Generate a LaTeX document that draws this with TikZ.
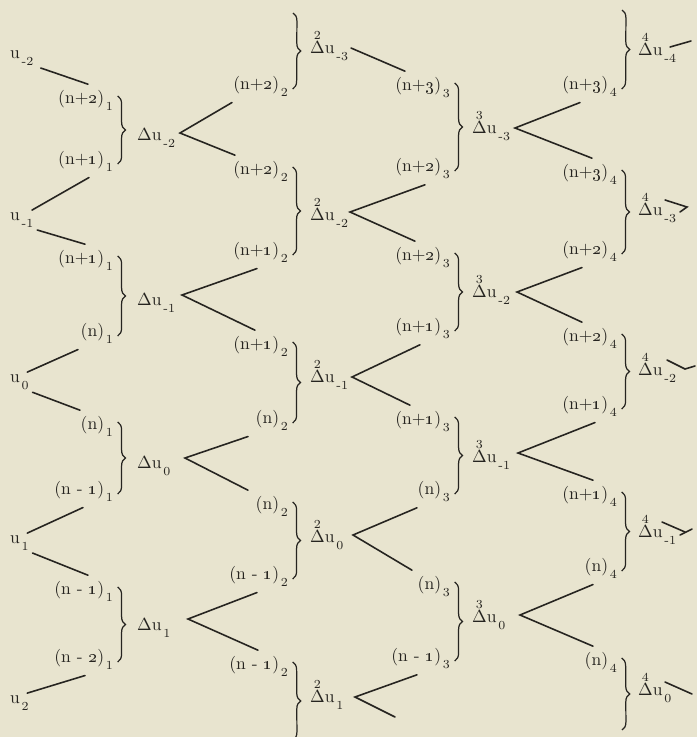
\documentclass[tikz,border=0pt]{standalone}
\usepackage{amsmath,amssymb}
\usepackage{tikz}
\usetikzlibrary{positioning,calc,decorations.pathreplacing}

\definecolor{paper}{RGB}{232,228,207}
\definecolor{ink}{RGB}{38,36,32}
\newcommand{\subl}[1]{\kern1pt\raisebox{-4.5pt}{\scriptsize #1}}
\newcommand{\dif}[1]{\ensuremath{\mathop{\kern0pt\Delta}\limits^{\raisebox{-1.5pt}{$\scriptstyle #1$}}}}

\begin{document}
\begin{tikzpicture}[
    x=0.02cm, y=-0.02cm, color=ink,
    lbl/.style={inner xsep=1pt, inner ysep=3pt, anchor=base east},
    val/.style={inner sep=1pt, anchor=base west},
    arm/.style={line width=0.9pt, line cap=round},
    brc/.style={decorate, decoration={brace, amplitude=4.5pt}, line width=0.7pt}
]
    \fill[paper] (0,0) rectangle (697,737);
    \useasboundingbox (0,0) rectangle (697,737);

    % Values
    \node[val] (um2) at (8,58)  {u\subl{-2}};
    \node[val] (um1) at (8,220) {u\subl{-1}};
    \node[val] (u0)  at (8,382) {u\subl{0}};
    \node[val] (u1)  at (8,543) {u\subl{1}};
    \node[val] (u2)  at (8,703) {u\subl{2}};

    % First differences
    \node[lbl] (l1a) at (115,103) {(n+\oldstylenums{2})\subl{1}};
    \node[lbl] (l1b) at (115,164) {(n+\oldstylenums{1})\subl{1}};
    \node[lbl] (l1c) at (115,263) {(n+\oldstylenums{1})\subl{1}};
    \node[lbl] (l1d) at (115,336) {(n)\subl{1}};
    \node[lbl] (l1e) at (115,429) {(n)\subl{1}};
    \node[lbl] (l1f) at (115,494) {(n - \oldstylenums{1})\subl{1}};
    \node[lbl] (l1g) at (115,594) {(n - \oldstylenums{1})\subl{1}};
    \node[lbl] (l1h) at (115,662) {(n - \oldstylenums{2})\subl{1}};
    \node[val] (d1m2) at (135,140) {$\Delta$u\subl{-2}};
    \node[val] (d1m1) at (135,305) {$\Delta$u\subl{-1}};
    \node[val] (d10)  at (135,468) {$\Delta$u\subl{0}};
    \node[val] (d11)  at (135,630) {$\Delta$u\subl{1}};
    \draw[brc] ([xshift=1.5pt,yshift=4pt]l1a.base east) -- ([xshift=1.5pt]l1b.base east);
    \draw[brc] ([xshift=1.5pt,yshift=4pt]l1c.base east) -- ([xshift=1.5pt]l1d.base east);
    \draw[brc] ([xshift=1.5pt,yshift=4pt]l1e.base east) -- ([xshift=1.5pt]l1f.base east);
    \draw[brc] ([xshift=1.5pt,yshift=4pt]l1g.base east) -- ([xshift=1.5pt]l1h.base east);
    \draw[arm] ([xshift=3pt]um2.south east) -- (88,0 |- l1a.north);
    \draw[arm] ([xshift=-2pt]um1.north east) -- (89,0 |- l1b.south);
    \draw[arm] ([xshift=1pt]um1.south east) -- (85,0 |- l1c.north);
    \draw[arm] ([xshift=-2pt]u0.north east) -- (78,0 |- l1d.south);
    \draw[arm] ([xshift=1pt]u0.south east) -- (80,0 |- l1e.north);
    \draw[arm] ([xshift=-2pt]u1.north east) -- (83,0 |- l1f.south);
    \draw[arm] ([xshift=1pt]u1.south east) -- (88,0 |- l1g.north);
    \draw[arm] ([xshift=-2pt]u2.north east) -- (85,0 |- l1h.south);

    % Second differences
    \node[lbl] (l2a) at (290,89)  {(n+\oldstylenums{2})\subl{2}};
    \node[lbl] (l2b) at (290,174) {(n+\oldstylenums{2})\subl{2}};
    \node[lbl] (l2c) at (290,255) {(n+\oldstylenums{1})\subl{2}};
    \node[lbl] (l2d) at (290,349) {(n+\oldstylenums{1})\subl{2}};
    \node[lbl] (l2e) at (290,423) {(n)\subl{2}};
    \node[lbl] (l2f) at (290,509) {(n)\subl{2}};
    \node[lbl] (l2g) at (290,579) {(n - \oldstylenums{1})\subl{2}};
    \node[lbl] (l2h) at (290,669) {(n - \oldstylenums{1})\subl{2}};
    \node[val] (d2m3) at (308,53)  {\dif{2}u\subl{-3}};
    \node[val] (d2m2) at (308,220) {\dif{2}u\subl{-2}};
    \node[val] (d2m1) at (308,382) {\dif{2}u\subl{-1}};
    \node[val] (d20)  at (308,542) {\dif{2}u\subl{0}};
    \node[val] (d21)  at (308,702) {\dif{2}u\subl{1}};
    \coordinate (t2) at (293,13);
    \coordinate (z2) at (293,740);
    \draw[brc] (t2) -- ([xshift=1.5pt]l2a.base east);
    \draw[brc] ([xshift=1.5pt,yshift=4pt]l2b.base east) -- ([xshift=1.5pt]l2c.base east);
    \draw[brc] ([xshift=1.5pt,yshift=4pt]l2d.base east) -- ([xshift=1.5pt]l2e.base east);
    \draw[brc] ([xshift=1.5pt,yshift=4pt]l2f.base east) -- ([xshift=1.5pt]l2g.base east);
    \draw[brc] ([xshift=1.5pt,yshift=4pt]l2h.base east) -- (z2);
    \coordinate (v1m2) at (180,133);
    \coordinate (v1m1) at (182,295);
    \coordinate (v10)  at (185,458);
    \coordinate (v11)  at (188,619);
    \draw[arm] (232,0 |- l2a.south) -- (v1m2) -- (235,0 |- l2b.north);
    \draw[arm] (257,0 |- l2c.south) -- (v1m1) -- (255,0 |- l2d.north);
    \draw[arm] (248,0 |- l2e.south) -- (v10) -- (248,0 |- l2f.north);
    \draw[arm] (257,0 |- l2g.south) -- (v11) -- (258,0 |- l2h.north);

    % Third differences
    \node[lbl] (l3a) at (452,90)  {(n+\oldstylenums{3})\subl{3}};
    \node[lbl] (l3b) at (452,171) {(n+\oldstylenums{2})\subl{3}};
    \node[lbl] (l3c) at (452,260) {(n+\oldstylenums{2})\subl{3}};
    \node[lbl] (l3d) at (452,331) {(n+\oldstylenums{1})\subl{3}};
    \node[lbl] (l3e) at (452,424) {(n+\oldstylenums{1})\subl{3}};
    \node[lbl] (l3f) at (452,494) {(n)\subl{3}};
    \node[lbl] (l3g) at (452,589) {(n)\subl{3}};
    \node[lbl] (l3h) at (452,661) {(n - \oldstylenums{1})\subl{3}};
    \node[val] (d3m3) at (470,133) {\dif{3}u\subl{-3}};
    \node[val] (d3m2) at (470,297) {\dif{3}u\subl{-2}};
    \node[val] (d3m1) at (470,462) {\dif{3}u\subl{-1}};
    \node[val] (d30)  at (470,622) {\dif{3}u\subl{0}};
    \draw[brc] ([xshift=1.5pt,yshift=4pt]l3a.base east) -- ([xshift=1.5pt]l3b.base east);
    \draw[brc] ([xshift=1.5pt,yshift=4pt]l3c.base east) -- ([xshift=1.5pt]l3d.base east);
    \draw[brc] ([xshift=1.5pt,yshift=4pt]l3e.base east) -- ([xshift=1.5pt]l3f.base east);
    \draw[brc] ([xshift=1.5pt,yshift=4pt]l3g.base east) -- ([xshift=1.5pt]l3h.base east);
    \coordinate (v2m3) at (351,48);
    \coordinate (v2m2) at (350,212);
    \coordinate (v2m1) at (352,377);
    \coordinate (v20)  at (353,535);
    \coordinate (v21)  at (355,697);
    \coordinate (e21)  at (395,717);
    \draw[arm] (v2m3) -- (405,0 |- l3a.north);
    \draw[arm] (425,0 |- l3b.south) -- (v2m2) -- (415,0 |- l3c.north);
    \draw[arm] (420,0 |- l3d.south) -- (v2m1) -- (410,0 |- l3e.north);
    \draw[arm] (417,0 |- l3f.south) -- (v20) -- (412,0 |- l3g.north);
    \draw[arm] (417,0 |- l3h.south) -- (v21) -- (e21);

    % Fourth differences
    \node[lbl] (l4a) at (619,89)  {(n+\oldstylenums{3})\subl{4}};
    \node[lbl] (l4b) at (619,177) {(n+\oldstylenums{3})\subl{4}};
    \node[lbl] (l4c) at (619,254) {(n+\oldstylenums{2})\subl{4}};
    \node[lbl] (l4d) at (619,341) {(n+\oldstylenums{2})\subl{4}};
    \node[lbl] (l4e) at (619,409) {(n+\oldstylenums{1})\subl{4}};
    \node[lbl] (l4f) at (619,499) {(n+\oldstylenums{1})\subl{4}};
    \node[lbl] (l4g) at (619,571) {(n)\subl{4}};
    \node[lbl] (l4h) at (619,665) {(n)\subl{4}};
    \node[val] (d4m4) at (636,55)  {\dif{4}u\subl{-4}};
    \node[val] (d4m3) at (636,215) {\dif{4}u\subl{-3}};
    \node[val] (d4m2) at (636,375) {\dif{4}u\subl{-2}};
    \node[val] (d4m1) at (636,537) {\dif{4}u\subl{-1}};
    \node[val] (d40)  at (636,695) {\dif{4}u\subl{0}};
    \coordinate (t4) at (622,10);
    \coordinate (z4) at (622,730);
    \draw[brc] (t4) -- ([xshift=1.5pt]l4a.base east);
    \draw[brc] ([xshift=1.5pt,yshift=4pt]l4b.base east) -- ([xshift=1.5pt]l4c.base east);
    \draw[brc] ([xshift=1.5pt,yshift=4pt]l4d.base east) -- ([xshift=1.5pt]l4e.base east);
    \draw[brc] ([xshift=1.5pt,yshift=4pt]l4f.base east) -- ([xshift=1.5pt]l4g.base east);
    \draw[brc] ([xshift=1.5pt,yshift=4pt]l4h.base east) -- (z4);
    \coordinate (v3m3) at (515,128);
    \coordinate (v3m2) at (517,292);
    \coordinate (v3m1) at (518,453);
    \coordinate (v30)  at (520,615);
    \draw[arm] (580,0 |- l4a.south) -- (v3m3) -- (592,0 |- l4b.north);
    \draw[arm] (582,0 |- l4c.south) -- (v3m2) -- (582,0 |- l4d.north);
    \draw[arm] (595,0 |- l4e.south) -- (v3m1) -- (593,0 |- l4f.north);
    \draw[arm] (593,0 |- l4g.south) -- (v30) -- (593,0 |- l4h.north);

    % Cut-off branches at the edge
    \draw[arm] (d4m4.base west) ++(34,-8) -- ++(21,-6);
    \draw[arm] (d4m3.base west) ++(29,-15) -- ++(22,7) -- ++(-7,5);
    \draw[arm] (d4m2.base west) ++(31,-15) -- ++(18,9) -- ++(10,-3);
    \draw[arm] (d4m1.base west) ++(26,-15) -- ++(23,10);
    \draw[arm] (d4m1.base west) ++(44,-2) -- ++(12,-6);
    \draw[arm] (d40.base west) ++(29,-13) -- ++(27,12);
\end{tikzpicture}
\end{document}
